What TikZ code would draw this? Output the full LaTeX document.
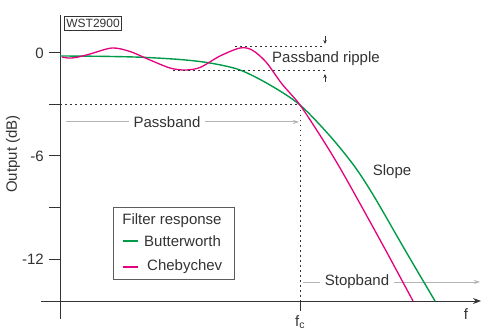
\documentclass[tikz,border=0pt]{standalone}
\usepackage{fontspec}
\setmainfont{Liberation Sans}
\usetikzlibrary{arrows.meta,positioning,calc}
\definecolor{fltGreen}{HTML}{009B48}
\definecolor{fltPink}{HTML}{E5007D}
\definecolor{fltText}{HTML}{333333}
\definecolor{fltGrey}{HTML}{B4B4B4}
\tikzset{
  >={Stealth[length=7pt,width=5pt]},
  axis/.style={draw=fltText, line width=1pt},
  tickmark/.style={draw=fltText, line width=1pt},
  guide/.style={draw=fltText, line width=1pt, dash pattern=on 1.5pt off 3.5pt},
  band/.style={-{Stealth[length=6pt,width=4pt]}, draw=fltGrey, line width=1pt},
  ripple/.style={-{Stealth[length=4pt,width=3.5pt]}, draw=fltText, line width=0.7pt},
  lbl/.style={font=\fontsize{15}{18}\selectfont, text=fltText, inner sep=1pt},
  bandlbl/.style={lbl, fill=white, inner xsep=5pt, inner ysep=1pt},
  tag/.style={draw=fltText, line width=0.8pt, font=\fontsize{12}{14}\selectfont,
              inner xsep=2pt, inner ysep=3pt, text=fltText},
  legbox/.style={draw=fltText!80, line width=1pt, minimum width=121pt,
              minimum height=72pt, inner sep=0pt},
  butter/.style={draw=fltGreen, line width=1.4pt},
  cheby/.style={draw=fltPink, line width=1.3pt},
  legline/.style={line width=1.3pt},
}

\begin{document}
\begin{tikzpicture}[x=1pt,y=-1pt]
  \useasboundingbox (0,0) rectangle (481,331);
  % axes
  \coordinate (yt) at (60,15);
  \coordinate (yb) at (60,319);
  \coordinate (xl) at (41,301);
  \coordinate (xr) at (481,301);
  \draw[axis] (yt) -- (yb);
  \draw[axis,-{Stealth[length=8pt,width=6pt]}] (xl) -- (xr);
  \foreach \y/\t in {53/0,105/,156/-6,207/,259/-12}{
    \draw[tickmark] (49,\y) -- (60,\y);
    \node[lbl,anchor=east] at (45,\y) {\t};}
  \node[lbl,rotate=90] (ylab) at (13,154) {Output (dB)};
  \node[lbl,anchor=base] (f) at (466,319) {f};
  \coordinate (fcax) at (300,301);
  \draw[tickmark] (fcax) -- ++(0,10);
  \node[lbl,anchor=base west] (fc) at (294,326) {f\textsubscript{c}};
  \node[tag,anchor=north west] (wst) at (64,16) {WST2900};
  % -3 dB cut-off guides
  \coordinate (cut) at (300,105);
  \draw[guide] (60,105) -- (cut);
  \draw[guide] (cut) -- (fcax);
  % bands
  \coordinate (pbL) at (66,122);
  \coordinate (pbR) at (299,122);
  \draw[band] (pbL) -- (pbR);
  \node[bandlbl] (pb) at (167,122) {Passband};
  \coordinate (sbL) at (303,282);
  \coordinate (sbR) at (480,282);
  \draw[band] (sbL) -- (sbR);
  \node[bandlbl] (sb) at (357,282) {Stopband};
  % responses
  \draw[butter] plot[smooth] coordinates {(60,56) (100,56.3) (140,57.2) (180,59.5)
    (210,63) (240,70) (270,85) (300,105) (330,136) (355,167) (375,198) (405,250) (435,301)};
  \draw[cheby] plot[smooth] coordinates {(62,57) (68,58) (76,57.5) (90,54) (112,48)
    (130,51.5) (150,60) (170,68) (185,70) (200,67.5) (220,56) (240,48) (252,50) (266,62)
    (282,84) (300,105) (323,140) (340,168) (358,200) (385,249) (413,301)};
  % ripple
  \coordinate (rtL) at (235,47);
  \coordinate (rtR) at (325,47);
  \coordinate (rbL) at (173,71);
  \coordinate (rbR) at (325,71);
  \draw[guide] (rtL) -- (rtR);
  \draw[guide] (rbL) -- (rbR);
  \draw[ripple] ($(rtR)+(0,-11)$) -- ($(rtR)+(0,-3)$);
  \draw[ripple] ($(rbR)+(0,11)$) -- ($(rbR)+(0,3)$);
  \node[lbl] (rip) at (326,59) {Passband ripple};
  \node[lbl] (slope) at (392,172) {Slope};
  % legend
  \node[legbox,anchor=north west] (leg) at (113,207) {};
  \node[lbl] (legt) at (172,221) {Filter response};
  \coordinate (gA) at (123,241);
  \coordinate (gB) at (138,241);
  \coordinate (pA) at (123,267);
  \coordinate (pB) at (138,267);
  \draw[legline,draw=fltGreen] (gA) -- (gB);
  \draw[legline,draw=fltPink] (pA) -- (pB);
  \node[lbl,anchor=west] (bw) at (143,241) {Butterworth};
  \node[lbl,anchor=west] (cb) at (146,267) {Chebychev};
\end{tikzpicture}
\end{document}
